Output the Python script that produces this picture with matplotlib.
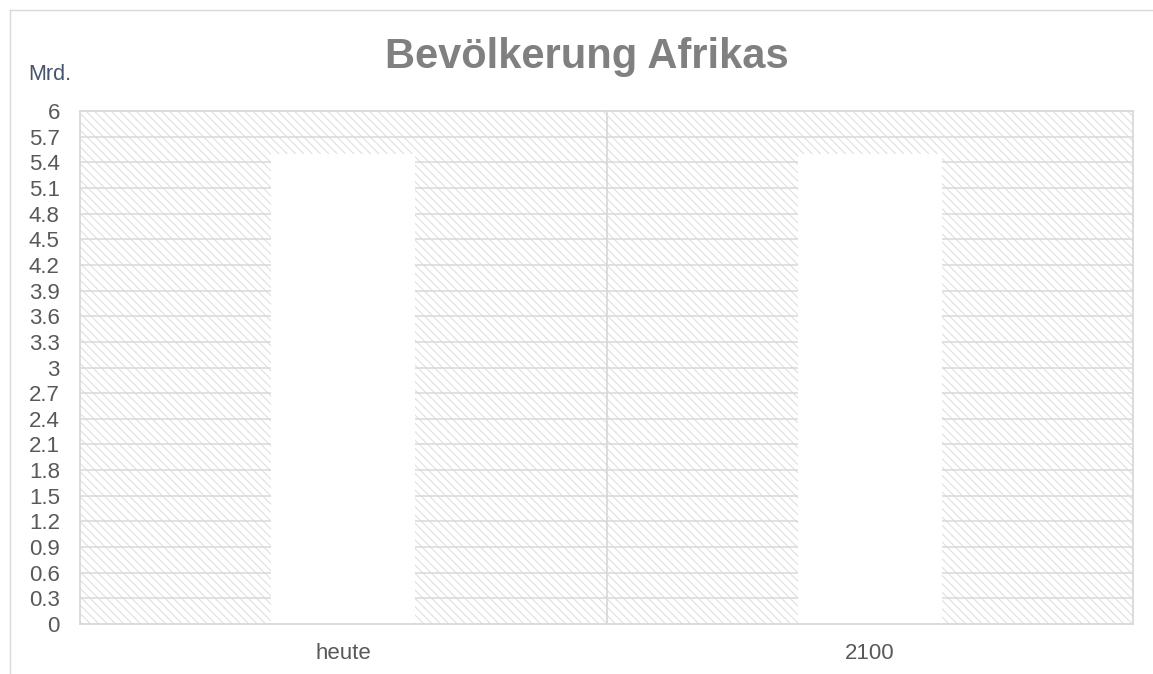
import matplotlib
matplotlib.use("Agg")
import matplotlib.pyplot as plt
from matplotlib.patches import Rectangle
from matplotlib.lines import Line2D

categories = ["heute", "2100"]
values = [5.5, 5.5]
yticks = [0, 0.3, 0.6, 0.9, 1.2, 1.5, 1.8, 2.1, 2.4, 2.7, 3, 3.3, 3.6, 3.9, 4.2,
          4.5, 4.8, 5.1, 5.4, 5.7, 6]
ytick_labels = ["0", "0.3", "0.6", "0.9", "1.2", "1.5", "1.8", "2.1", "2.4", "2.7", "3",
                "3.3", "3.6", "3.9", "4.2", "4.5", "4.8", "5.1", "5.4", "5.7", "6"]
title = "Bevölkerung Afrikas"
unit_label = "Mrd."

W, H = 1153, 674
plt.rcParams['font.family'] = ['Liberation Sans', 'DejaVu Sans']
plt.rcParams['hatch.linewidth'] = 0.7

fig = plt.figure(figsize=(W / 100, H / 100), dpi=100)
fig.patch.set_facecolor('white')

# outer chart border (only top and left visible)
grid_c = '#d9d9d9'
fig.add_artist(Line2D([9.5 / W, 1.0], [1 - 9.5 / H, 1 - 9.5 / H], color=grid_c, lw=1.0,
                      transform=fig.transFigure))
fig.add_artist(Line2D([9.5 / W, 9.5 / W], [0, 1 - 9.5 / H], color=grid_c, lw=1.0,
                      transform=fig.transFigure))

left, right, top, bottom = 80, 1133, 111, 624
ax = fig.add_axes([left / W, 1 - bottom / H, (right - left) / W, (bottom - top) / H])
ax.set_facecolor('white')

# hatched plot-area background
bg = Rectangle((0, 0), 1, 1, transform=ax.transAxes, facecolor='white',
               edgecolor='#dcdcdc', linewidth=0, hatch='\\\\\\\\', zorder=0)
ax.add_patch(bg)

x = list(range(len(categories)))
ax.set_xlim(-0.5, len(categories) - 0.5)
ax.set_ylim(0, 6)

for yv in yticks[1:-1]:
    ax.axhline(yv, color=grid_c, lw=1.1, zorder=1)
for i in range(1, len(categories)):
    ax.axvline(i - 0.5, color=grid_c, lw=1.3, zorder=1)

ax.bar(x, values, width=0.274, color='white', edgecolor='none', zorder=2)

for s in ax.spines.values():
    s.set_color(grid_c)
    s.set_linewidth(1.3)
    s.set_zorder(3)

ax.set_yticks(yticks)
ax.set_yticklabels(ytick_labels)
ax.set_xticks(x)
ax.set_xticklabels(categories)
ax.tick_params(axis='y', length=0, pad=14.5, labelsize=16, labelcolor='#595959')
ax.tick_params(axis='x', length=0, pad=14, labelsize=16, labelcolor='#595959')

fig.text(587 / W, 1 - 68 / H, title, ha='center', va='baseline', fontsize=30,
         fontweight='bold', color='#808080')
fig.text(28 / W, 1 - 80 / H, unit_label, ha='left', va='baseline', fontsize=15.5,
         color='#44546a')

fig.savefig('out.png', dpi=100, facecolor='white')
